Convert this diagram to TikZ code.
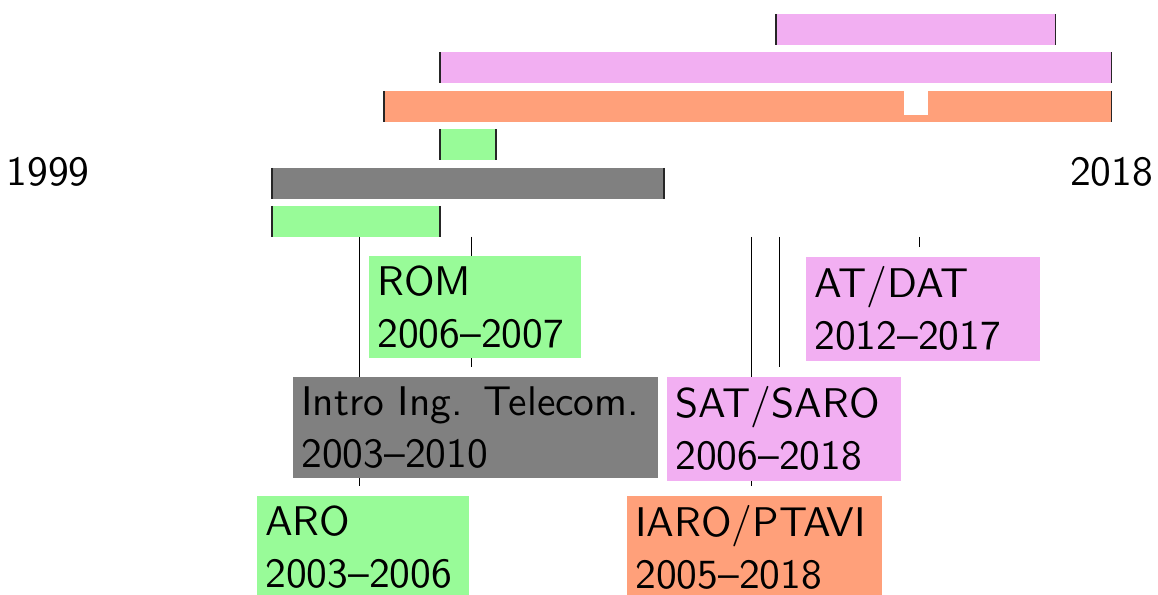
\documentclass[tikz,border=0pt]{standalone}
\definecolor{greenc}{RGB}{152,251,152}
\definecolor{pinkc}{RGB}{242,175,242}
\definecolor{orangec}{RGB}{255,160,122}
\definecolor{grayc}{RGB}{128,128,128}
\begin{document}
\begin{tikzpicture}[x=0.25pt,y=-0.25pt,
  font=\sffamily\fontsize{10.37}{12.93}\selectfont,
  tick/.style={line width=0.4pt, black!85},
  lbl/.style={anchor=north west, inner xsep=2.125pt, inner ysep=2.5pt, align=left},
  conn/.style={line width=0.25pt, shorten >=2.25pt},
  yearlbl/.style={anchor=base, inner sep=0pt}]
\useasboundingbox (0,0) rectangle (1158,595);
% bars
\fill[pinkc] (775.7,14) rectangle (1055.6,45);
\draw[tick] (775.7,14) -- (775.7,45) (1055.6,14) -- (1055.6,45);
\fill[pinkc] (439.9,52.5) rectangle (1111.6,83.5);
\draw[tick] (439.9,52.5) -- (439.9,83.5) (1111.6,52.5) -- (1111.6,83.5);
\fill[orangec] (383.9,91) rectangle (1111.6,122);
\fill[white] (904,91) rectangle (928,114.7);
\draw[tick] (383.9,91) -- (383.9,122) (1111.6,91) -- (1111.6,122);
\fill[greenc] (439.9,129.5) rectangle (495.9,160.5);
\draw[tick] (439.9,129.5) -- (439.9,160.5) (495.9,129.5) -- (495.9,160.5);
\fill[grayc] (272,168) rectangle (663.8,199);
\draw[tick] (272,168) -- (272,199) (663.8,168) -- (663.8,199);
\fill[greenc] (272,206) rectangle (439.9,237);
\draw[tick] (272,206) -- (272,237) (439.9,206) -- (439.9,237);
% years
\node[yearlbl] (y1999) at (48.1,186) {1999};
\node[yearlbl] (y2018) at (1111.6,186) {2018};
% connector tops
\coordinate (cARO) at (359,237);
\coordinate (cMID) at (471,237);
\coordinate (cIARO) at (751,237);
\coordinate (cSAT) at (779,237);
\coordinate (cAT) at (919,237);
% labels (placed first, drawn after the connectors)
\path (368,255) node[lbl, text width=48.75pt] (rom) {\phantom{R}};
\path (292,376) node[lbl, text width=87pt] (intro) {\phantom{I}};
\path (256,495) node[lbl, text width=48.75pt] (aro) {\phantom{A}};
\path (626,495) node[lbl, text width=59.5pt] (iaro) {\phantom{I}};
\path (666,376) node[lbl, text width=54.25pt] (sat) {\phantom{S}};
\path (805,256) node[lbl, text width=54.25pt] (at) {\phantom{A}};
\draw[conn] (cARO) -- (cARO |- aro.north);
\draw[conn] (cMID) -- (cMID |- intro.north);
\draw[conn] (cMID) -- (cMID |- rom.north);
\draw[conn] (cIARO) -- (cIARO |- iaro.north);
\draw[conn] (cSAT) -- (cSAT |- sat.north);
\draw[conn] (cAT) -- (cAT |- at.north);
\node[lbl, fill=greenc, text width=48.75pt] at (rom.north west) {ROM\\2006–2007};
\node[lbl, fill=grayc, text width=87pt] at (intro.north west) {Intro Ing. Telecom.\\2003–2010};
\node[lbl, fill=greenc, text width=48.75pt] at (aro.north west) {ARO\\2003–2006};
\node[lbl, fill=orangec, text width=59.5pt] at (iaro.north west) {IARO/PTAVI\\2005–2018};
\node[lbl, fill=pinkc, text width=54.25pt] at (sat.north west) {SAT/SARO\\2006–2018};
\node[lbl, fill=pinkc, text width=54.25pt] at (at.north west) {AT/DAT\\2012–2017};
\end{tikzpicture}
\end{document}
